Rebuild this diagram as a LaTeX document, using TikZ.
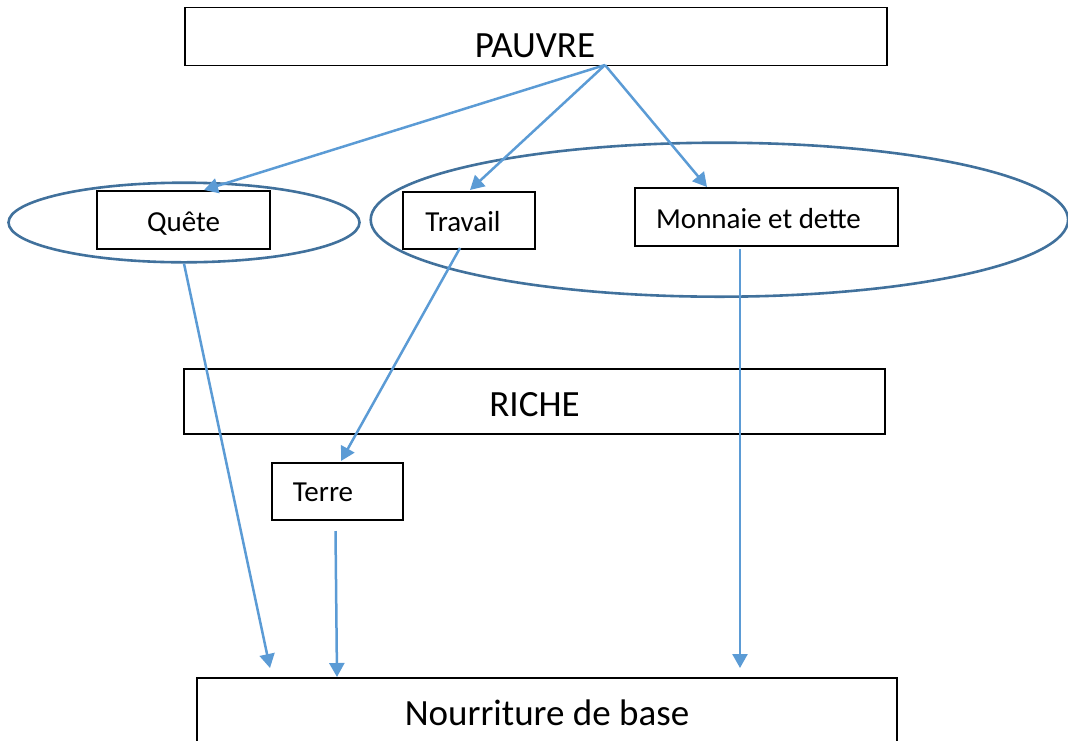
\documentclass[tikz,border=0pt]{standalone}
\usepackage{fontspec}
\setmainfont{Carlito}
\usetikzlibrary{arrows.meta,shapes.geometric}
\definecolor{arrowblue}{HTML}{5B9BD5}
\definecolor{ellblue}{HTML}{41719C}
\begin{document}
\begin{tikzpicture}[x=1pt,y=-1pt,
  box/.style={draw=black,line width=1.4pt,rectangle,inner sep=0pt},
  group/.style={draw=ellblue,line width=2.6pt,ellipse,inner sep=0pt},
  bigtext/.style={font=\fontsize{37}{44}\selectfont,anchor=base,inner sep=0pt},
  smalltext/.style={font=\fontsize{29}{35}\selectfont,anchor=base,inner sep=0pt},
  arr/.style={draw=arrowblue,line width=2.5pt,-{Triangle[length=14pt,width=15pt]}}]
\useasboundingbox (0,0) rectangle (1068,740);
% groups
\node[group,minimum width=351pt,minimum height=79.6pt] (qell) at (184,222.5) {};
\node[group,minimum width=697.4pt,minimum height=154pt] (rell) at (719.4,219.7) {};
% boxes
\node[box,minimum width=702pt,minimum height=58pt] (pauvre) at (536,36.5) {};
\node[bigtext] (tpauvre) at (535,57) {PAUVRE};
\node[box,minimum width=173pt,minimum height=58pt] (quete) at (183.5,220) {};
\node[smalltext] (tquete) at (183.5,231) {Quête};
\node[box,minimum width=132pt,minimum height=57pt] (travail) at (469,220.5) {};
\node[smalltext] (ttravail) at (463,231) {Travail};
\node[box,minimum width=263pt,minimum height=58pt] (monnaie) at (766.5,217) {};
\node[smalltext] (tmonnaie) at (758.5,228) {Monnaie et dette};
\node[box,minimum width=701pt,minimum height=65pt] (riche) at (534.5,401.5) {};
\node[bigtext] (triche) at (534.5,416) {RICHE};
\node[box,minimum width=131pt,minimum height=57pt] (terre) at (337.5,491.5) {};
\node[smalltext] (tterre) at (323,501) {Terre};
\node[box,minimum width=700pt,minimum height=90pt] (nour) at (547,723) {};
\node[bigtext] (tnour) at (547,725) {Nourriture de base};
% connector ends
\coordinate (p0) at (605,65);
\coordinate (qin) at (204,190);
\coordinate (tin) at (470,190);
\coordinate (min) at (707,187);
\coordinate (trout) at (460,248);
\coordinate (terin) at (341,461);
\coordinate (mout) at (740,249);
\coordinate (qend) at (270,668);
\coordinate (mend) at (740,668);
\coordinate (terout) at (335.5,531);
\coordinate (terend) at (337,677);
% connectors
\draw[arr] (p0) -- (qin);
\draw[arr] (p0) -- (tin);
\draw[arr] (p0) -- (min);
\draw[arr] (qell.south) -- (qend);
\draw[arr] (trout) -- (terin);
\draw[arr] (mout) -- (mend);
\draw[arr] (terout) -- (terend);
\end{tikzpicture}
\end{document}
